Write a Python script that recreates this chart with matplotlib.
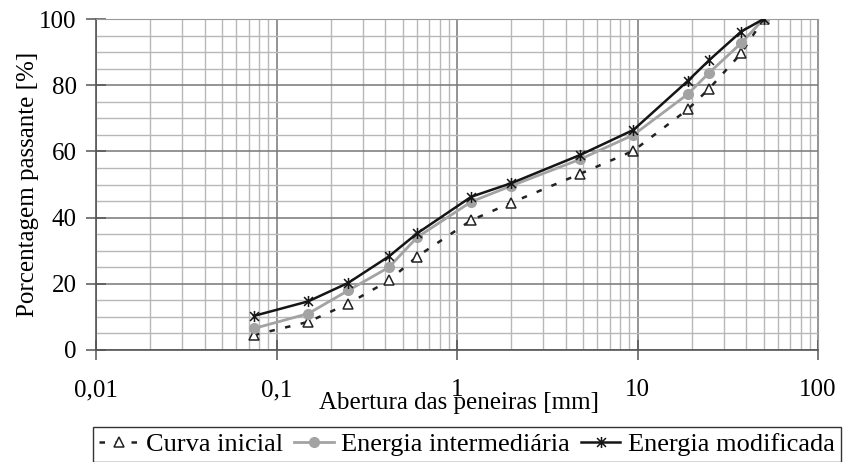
import matplotlib
matplotlib.use("Agg")
import matplotlib.pyplot as plt
from matplotlib.ticker import FixedLocator, NullFormatter, LogLocator
from matplotlib.path import Path

plt.rcParams['font.family'] = ['Liberation Serif', 'DejaVu Serif']

sieves = [0.075, 0.15, 0.25, 0.42, 0.6, 1.2, 2.0, 4.8, 9.5, 19, 25, 37.5, 50]
curva_inicial = [4.5, 8.5, 14.0, 21.0, 28.2, 39.2, 44.5, 53.2, 60.2, 72.7, 79.0, 89.6, 100]
energia_intermediaria = [6.5, 11.0, 18.0, 25.0, 34.0, 44.8, 49.6, 57.6, 65.0, 77.3, 83.8, 92.7, 100]
energia_modificada = [10.3, 14.7, 20.3, 28.3, 35.2, 46.3, 50.4, 58.9, 66.5, 81.3, 87.6, 96.2, 100]

x_ticks = [0.01, 0.1, 1, 10, 100]
x_ticklabels = ["0,01", "0,1", "1", "10", "100"]
y_ticks = [0, 20, 40, 60, 80, 100]

star = Path([(-1, -1), (1, 1), (-1, 1), (1, -1), (0, -1.25), (0, 1.25)],
            [Path.MOVETO, Path.LINETO, Path.MOVETO, Path.LINETO, Path.MOVETO, Path.LINETO])

fig = plt.figure(figsize=(8.44, 4.62), dpi=100)
ax = fig.add_axes([96/844, 1 - 350/462, (818-96)/844, (350-19)/462])

ax.set_xscale('log')
ax.set_xlim(0.01, 100)
ax.set_ylim(0, 100)

ax.plot(sieves, curva_inicial, color='#222222', linestyle=(0, (2.2, 4.2)), linewidth=1.8,
        marker='^', markersize=7, markerfacecolor='white', markeredgecolor='#222222',
        markeredgewidth=1.1, label='Curva inicial', zorder=3)
ax.plot(sieves, energia_intermediaria, color='#a3a3a3', linestyle='-', linewidth=2.0,
        marker='o', markersize=7, markerfacecolor='#a3a3a3', markeredgecolor='#a3a3a3',
        label='Energia intermediária', zorder=4)
ax.plot(sieves, energia_modificada, color='#151515', linestyle='-', linewidth=1.8,
        marker=star, markersize=8, markeredgewidth=1.1, markeredgecolor='#151515',
        markerfacecolor='none', label='Energia modificada', zorder=5)

ax.xaxis.set_major_locator(FixedLocator(x_ticks))
ax.set_xticklabels(x_ticklabels)
ax.xaxis.set_minor_locator(LogLocator(base=10, subs=range(2, 10), numticks=20))
ax.xaxis.set_minor_formatter(NullFormatter())
ax.set_yticks(y_ticks)
ax.yaxis.set_minor_locator(FixedLocator(list(range(5, 100, 5))))

ax.grid(which='major', color='#777777', linewidth=1.1)
ax.grid(which='minor', color='#b8b8b8', linewidth=1.0)
ax.set_axisbelow(True)

ax.tick_params(which='major', direction='inout', length=14, width=1.1, color='#555555',
               labelsize=18)
ax.tick_params(axis='y', which='major', pad=7)
ax.tick_params(axis='x', which='major', pad=14)
ax.tick_params(which='minor', length=0)

for side in ['top', 'right']:
    ax.spines[side].set_color('#999999')
for side in ['left', 'bottom']:
    ax.spines[side].set_color('#555555')
    ax.spines[side].set_linewidth(1.2)

ax.set_xlabel('Abertura das peneiras [mm]', fontsize=18)
ax.xaxis.set_label_coords(0.503, -(409 - 350) / 331)
ax.xaxis.label.set_verticalalignment('baseline')
ax.set_ylabel('Porcentagem passante [%]', fontsize=18)
ax.yaxis.set_label_coords(-(96 - 28) / 722, 0.5)
ax.yaxis.label.set_verticalalignment('center')

leg = fig.legend(loc='upper left', bbox_to_anchor=(93/844, 1 - 427/462), ncol=3,
                 frameon=True, fancybox=False, edgecolor='black', fontsize=19,
                 handlelength=1.5, handletextpad=0.3, columnspacing=0.4,
                 borderpad=0.22, borderaxespad=0)
leg.get_frame().set_linewidth(1.0)

fig.savefig('out.png', dpi=100)
